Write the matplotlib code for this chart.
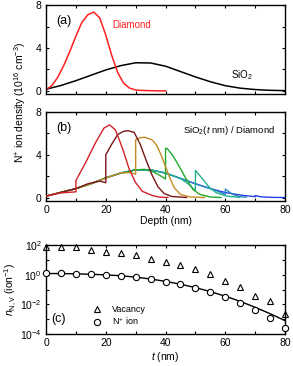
import numpy as np
import matplotlib.pyplot as plt
from matplotlib.ticker import MultipleLocator, FixedLocator, NullFormatter

plt.rcParams['font.family'] = ['Liberation Sans', 'DejaVu Sans']
plt.rcParams['mathtext.fontset'] = 'custom'
plt.rcParams['mathtext.rm'] = 'Liberation Sans'
plt.rcParams['mathtext.it'] = 'Liberation Sans:italic'
plt.rcParams['font.size'] = 7.5

# =========================
# (a) pure targets
# =========================
dia_x = [0, 2, 4, 6, 8, 10, 12, 14, 16, 18, 20, 22, 24, 26, 28, 30, 32, 34, 36, 38, 40]
dia_y = [0.1, 0.5, 1.3, 2.4, 3.7, 5.1, 6.4, 7.1, 7.35, 6.8, 5.2, 3.3, 1.7, 0.7, 0.25,
         0.08, 0.04, 0.02, 0.01, 0.0, 0.0]

sio2_x = [0, 5, 10, 15, 20, 25, 30, 35, 40, 45, 50, 55, 60, 65, 70, 75, 80]
sio2_y = [0.15, 0.5, 0.95, 1.45, 1.95, 2.35, 2.62, 2.6, 2.3, 1.8, 1.3, 0.85, 0.48,
          0.25, 0.12, 0.05, 0.02]

# =========================
# (b) SiO2(t nm) / diamond stacks
# =========================
b10_x = [0, 5, 10, 10, 13.3, 16.7, 19.4, 21.3, 23.3, 25.6, 27.8, 30, 32.2, 35.6, 38, 40.8]
b10_y = [0.15, 0.45, 0.55, 1.6, 3.3, 5.2, 6.5, 6.8, 6.3, 4.6, 2.7, 1.4, 0.6, 0.2, 0.05, 0.02]

b20_x = [0, 5, 10, 14, 18, 20, 20, 22, 24, 26, 27.5, 29.5, 31.5, 33.5, 35.5, 37.5, 39.5, 42, 47]
b20_y = [0.15, 0.5, 0.85, 1.3, 1.55, 1.4, 4.0, 5.0, 5.9, 6.2, 6.25, 6.1, 5.0, 3.5, 2.1,
         1.0, 0.4, 0.12, 0.02]

b30_x = [0, 5, 10, 15, 20, 25, 28, 30, 30, 31.5, 33, 35.5, 37, 38.5, 40, 41.5, 43, 45, 48, 53]
b30_y = [0.15, 0.5, 0.85, 1.3, 1.85, 2.3, 2.35, 2.2, 5.4, 5.6, 5.65, 5.4, 4.9, 4.0, 2.9,
         1.8, 0.9, 0.3, 0.08, 0.02]

b40_x = [0, 5, 10, 15, 20, 25, 30, 33, 36, 38, 40, 40, 40.5, 42.4, 44.7, 46.9, 49.1,
         51.3, 54.7, 58.5]
b40_y = [0.15, 0.5, 0.85, 1.3, 1.85, 2.3, 2.6, 2.65, 2.4, 2.1, 1.75, 4.6, 4.6, 3.95,
         2.86, 1.75, 0.8, 0.33, 0.08, 0.02]

b50_x = [0, 5, 10, 15, 20, 25, 30, 35, 40, 45, 48, 50, 50, 52.4, 54.7, 56.9, 60.2, 64.7]
b50_y = [0.15, 0.5, 0.85, 1.3, 1.85, 2.3, 2.6, 2.6, 2.3, 1.8, 1.2, 0.65, 2.55, 1.75,
         0.95, 0.48, 0.16, 0.03]

b60_x = [0, 5, 10, 15, 20, 25, 30, 35, 40, 45, 50, 55, 58, 60, 60, 62.4, 64.7, 67]
b60_y = [0.15, 0.5, 0.85, 1.3, 1.85, 2.3, 2.6, 2.6, 2.3, 1.8, 1.3, 0.85, 0.55, 0.3,
         0.8, 0.32, 0.1, 0.05]

b70_x = [0, 5, 10, 15, 20, 25, 30, 35, 40, 45, 50, 55, 60, 65, 68, 70, 70, 72, 76, 80]
b70_y = [0.15, 0.5, 0.85, 1.3, 1.85, 2.3, 2.6, 2.6, 2.3, 1.8, 1.3, 0.85, 0.48, 0.25,
         0.15, 0.1, 0.2, 0.08, 0.03, 0.02]

b_curves = [(b10_x, b10_y, '#d2222a'), (b20_x, b20_y, '#7a1616'),
            (b30_x, b30_y, '#c48a22'), (b40_x, b40_y, '#22a82a'),
            (b50_x, b50_y, '#22b08c'), (b60_x, b60_y, '#2a88c4'),
            (b70_x, b70_y, '#2040ee')]

# =========================
# (c) NV yield vs SiO2 thickness
# =========================
t_nm = [0, 5, 10, 15, 20, 25, 30, 35, 40, 45, 50, 55, 60, 65, 70, 75, 80]
vac_log = [1.89, 1.84, 1.84, 1.66, 1.55, 1.44, 1.33, 1.06, 0.88, 0.65, 0.38, 0.02,
           -0.41, -0.85, -1.43, -1.8, -2.68]
ion_log = [0.09, 0.09, 0.07, 0.04, 0.0, -0.07, -0.18, -0.31, -0.47, -0.65, -0.92,
           -1.19, -1.53, -1.89, -2.38, -2.94, -3.57]
fit_log = [0.08, 0.08, 0.06, 0.03, -0.01, -0.07, -0.16, -0.29, -0.45, -0.64, -0.87,
           -1.14, -1.45, -1.8, -2.2, -2.63, -3.1]

vac = 10.0 ** np.array(vac_log)
ion = 10.0 ** np.array(ion_log)
fit = 10.0 ** np.array(fit_log)

# =========================
# Plotting
# =========================
fig = plt.figure(figsize=(2.93, 3.66), dpi=100)
L, W, H = 0.157, 0.816, 0.243
ax_a = fig.add_axes([L, 0.743, W, H])
ax_b = fig.add_axes([L, 0.451, W, H])
ax_c = fig.add_axes([L, 0.0874, W, H])

for ax in (ax_a, ax_b, ax_c):
    ax.set_xlim(0, 80)
    ax.xaxis.set_major_locator(MultipleLocator(20))
    ax.xaxis.set_minor_locator(MultipleLocator(10))
    ax.tick_params(which='both', direction='in', top=True, right=True,
                   length=2.5, width=0.8, pad=3)
    for s in ax.spines.values():
        s.set_linewidth(1.0)

for ax in (ax_a, ax_b):
    ax.set_ylim(-0.3, 8)
    ax.yaxis.set_major_locator(MultipleLocator(4))
    ax.yaxis.set_minor_locator(MultipleLocator(2))

# (a)
ax_a.plot(sio2_x, sio2_y, color='black', lw=1.1)
ax_a.plot(dia_x, dia_y, color='#ff2020', lw=1.1)
ax_a.xaxis.set_major_formatter(NullFormatter())
ax_a.text(0.075, 0.82, '(a)', transform=ax_a.transAxes, ha='center', va='center', fontsize=9)
ax_a.text(22, 6.1, 'Diamond', color='#ff2020', fontsize=7, va='center')
ax_a.text(62, 1.5, 'SiO$_2$', fontsize=7, va='center')

# (b) drawn back to front so the thin layers sit on top
for k, (x, y, c) in enumerate(b_curves):
    ax_b.plot(x, y, color=c, lw=1.0, zorder=10 - k)
ax_b.text(0.075, 0.82, '(b)', transform=ax_b.transAxes, ha='center', va='center', fontsize=9)
ax_b.text(0.766, 0.79, 'SiO$_2$($t$ nm) / Diamond', transform=ax_b.transAxes,
          ha='center', va='center', fontsize=6.8)
ax_b.set_xlabel('Depth (nm)', labelpad=1)

fig.text(0.068, 0.719, 'N$^{+}$ ion density (10$^{16}$ cm$^{-3}$)', rotation=90,
         ha='center', va='center')

# (c)
ax_c.set_yscale('log')
ax_c.set_ylim(1e-4, 1e2)
ax_c.yaxis.set_major_locator(FixedLocator([1e-4, 1e-2, 1e0, 1e2]))
ax_c.yaxis.set_minor_locator(FixedLocator([1e-3, 1e-1, 1e1]))
ax_c.yaxis.set_minor_formatter(NullFormatter())
ax_c.plot(t_nm, fit, color='black', lw=1.0)
ax_c.plot(t_nm, vac, ls='none', marker='^', ms=5, mfc='white', mec='black', mew=0.8,
          clip_on=False, label='Vacancy')
ax_c.plot(t_nm, ion, ls='none', marker='o', ms=4.5, mfc='white', mec='black', mew=0.8,
          clip_on=False, label='N$^{+}$ ion', zorder=5)
ax_c.legend(frameon=False, loc='lower left', bbox_to_anchor=(0.16, -0.015),
            handlelength=1.0, handletextpad=1.2, labelspacing=0.15, fontsize=6.5)
ax_c.text(0.052, 0.17, '(c)', transform=ax_c.transAxes, ha='center', va='center', fontsize=9)
ax_c.set_xlabel('$t$ (nm)', labelpad=1)
fig.text(0.037, 0.209, '$n_{\\mathrm{N,V}}$ (ion$^{-1}$)', rotation=90,
         ha='center', va='center')

fig.savefig('out.png', dpi=100)
